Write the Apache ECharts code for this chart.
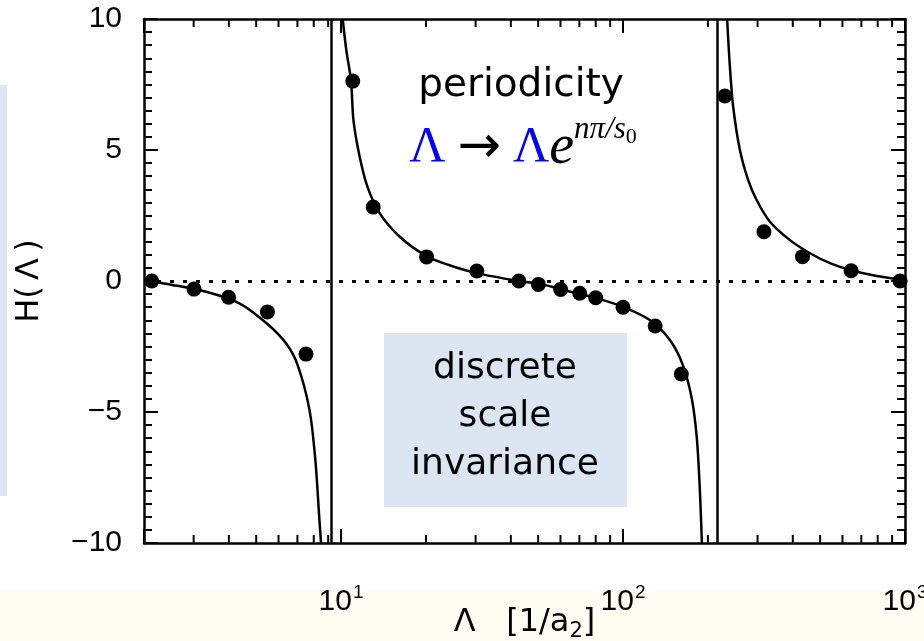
<!DOCTYPE html>
<html>
<head>
<meta charset="utf-8">
<script src="https://cdn.jsdelivr.net/npm/echarts@6/dist/echarts.min.js"></script>
<style>
  html, body { margin: 0; padding: 0; background: #fff; }
  #chart { width: 924px; height: 641px; }
</style>
</head>
<body>
<div id="chart"></div>
<script>
// measured points (filled dots)
const dotLambda = [2.13, 3.01, 3.99, 5.48, 7.51, 11.0, 13.0, 20.1, 30.3, 42.7, 50.1, 60.1, 70.2, 80.0, 100, 130, 161, 229.7, 316, 433, 644, 961]
const dotH = [0.0, -0.31, -0.62, -1.18, -2.79, 7.63, 2.82, 0.92, 0.38, 0.0, -0.13, -0.32, -0.47, -0.64, -1.0, -1.72, -3.55, 7.06, 1.88, 0.93, 0.39, 0.0]

// fitted curve, three branches between the poles
const branch1Lambda = [2.0, 2.52, 3.32, 4.36, 5.48, 6.38, 7.01, 7.72, 8.10, 8.37, 8.49]
const branch1H = [0.02, -0.15, -0.41, -0.85, -1.64, -2.38, -3.2, -4.9, -6.8, -9.05, -10]
const branch2Lambda = [10.13, 10.44, 10.85, 11.06, 11.61, 12.4, 13.68, 16.11, 20.09, 24.24, 30.24, 42.63, 50.61, 59.6, 70.2, 82.7, 100.6, 124.4, 146.6, 162.9, 175.4, 182.7, 187.3, 190.4]
const branch2H = [10, 8.8, 7.63, 6.15, 4.8, 3.6, 2.6, 1.7, 0.95, 0.6, 0.3, 0.0, -0.11, -0.3, -0.5, -0.69, -1.0, -1.49, -2.25, -3.2, -4.5, -6, -8, -10]
const branch3Lambda = [234.1, 239.3, 245.8, 259.7, 277.9, 297.7, 331.9, 390.8, 460.3, 542.0, 638.3, 794.1, 1000]
const branch3H = [9.96, 8.18, 6.65, 5.0, 3.85, 3.09, 2.26, 1.56, 1.06, 0.68, 0.42, 0.19, 0.03]

// poles (vertical lines)
const poleLambda = [9.24, 215]

// log axis minor tick values
const minorTicks = [3, 4, 5, 6, 7, 8, 9, 20, 30, 40, 50, 60, 70, 80, 90, 200, 300, 400, 500, 600, 700, 800, 900]

const zip = (xs, ys) => xs.map((x, i) => [x, ys[i]])

const chart = echarts.init(document.getElementById('chart'))

const axisLine = { show: true, onZero: false, lineStyle: { color: '#000', width: 2.5 } }
const tickFont = { fontFamily: 'Liberation Sans', fontSize: 30, color: '#000' }

const curveStyle = {
  type: 'line',
  showSymbol: false,
  symbol: 'none',
  smooth: 0.3,
  lineStyle: { color: '#000', width: 2.5 },
  z: 4,
}

const option = {
  backgroundColor: '#fff',
  animation: false,
  grid: { left: 144, right: 19, top: 19, bottom: 98, containLabel: false, outerBoundsMode: 'none' },
  xAxis: [
    {
      type: 'log',
      logBase: 10,
      min: 2,
      max: 1000,
      position: 'bottom',
      axisLine,
      axisTick: { show: true, inside: true, length: 14, lineStyle: { color: '#000', width: 2 } },
      splitLine: { show: false },
      axisLabel: {
        margin: 40,
        formatter: (v) => {
          const e = Math.round(Math.log10(v))
          if (Math.abs(Math.pow(10, e) - v) > 1e-6) return ''
          return '{b|10}{s|' + e + '}'
        },
        rich: {
          b: { ...tickFont },
          s: { ...tickFont, fontSize: 19, padding: [0, 0, 18, 1] },
        },
      },
      name: '{t|Λ   [1/a}{sub|2}{t|]}',
      nameLocation: 'middle',
      nameGap: 61,
      nameMoveOverlap: false,
      nameTextStyle: {
        rich: {
          t: { fontFamily: 'DejaVu Sans', fontSize: 32, color: '#000' },
          sub: { fontFamily: 'DejaVu Sans', fontSize: 21, color: '#000', padding: [17, 0, 0, 0] },
        },
      },
    },
    {
      type: 'log',
      logBase: 10,
      min: 2,
      max: 1000,
      position: 'top',
      axisLine,
      axisTick: { show: true, inside: true, length: 14, lineStyle: { color: '#000', width: 2 } },
      axisLabel: { show: false },
      splitLine: { show: false },
    },
  ],
  yAxis: [
    {
      type: 'value',
      min: -10,
      max: 10,
      interval: 5,
      position: 'left',
      axisLine,
      axisTick: { show: true, inside: true, length: 14, lineStyle: { color: '#000', width: 2 } },
      minorTick: { show: true, splitNumber: 10, length: 8, lineStyle: { color: '#000', width: 2 } },
      splitLine: { show: false },
      axisLabel: {
        margin: 22,
        ...tickFont,
        formatter: (v) => (v < 0 ? '\u2212' + Math.abs(v) : String(v)),
      },
      name: 'H(\u2009Λ\u2009)',
      nameLocation: 'middle',
      nameGap: 98,
      nameRotate: 90,
      nameMoveOverlap: false,
      nameTextStyle: { fontFamily: 'DejaVu Sans', fontSize: 32, color: '#000' },
    },
    {
      type: 'value',
      min: -10,
      max: 10,
      interval: 5,
      position: 'right',
      axisLine,
      axisTick: { show: true, inside: true, length: 14, lineStyle: { color: '#000', width: 2 } },
      minorTick: { show: true, splitNumber: 10, length: 8, lineStyle: { color: '#000', width: 2 } },
      splitLine: { show: false },
      axisLabel: { show: false },
    },
  ],
  graphic: [
    { type: 'rect', shape: { x: 0, y: 85, width: 7, height: 411 }, style: { fill: '#dce6f2' }, z: -10 },
    { type: 'rect', shape: { x: 0, y: 590, width: 924, height: 51 }, style: { fill: '#fffdf2' }, z: -10 },
    { type: 'rect', shape: { x: 384, y: 333, width: 243, height: 174 }, style: { fill: '#dce6f2' }, z: 1 },
    {
      type: 'text', x: 505, y: 417, z: 10,
      style: {
        text: 'discrete\nscale\ninvariance',
        fontFamily: 'DejaVu Sans', fontSize: 36, lineHeight: 48,
        fill: '#000', align: 'center', verticalAlign: 'middle',
      },
    },
    {
      type: 'text', x: 521, y: 86, z: 10,
      style: {
        text: 'periodicity',
        fontFamily: 'DejaVu Sans', fontSize: 39,
        fill: '#000', align: 'center', verticalAlign: 'middle',
      },
    },
    {
      type: 'text', x: 523, y: 148, z: 10,
      style: {
        text: '{L|Λ}{a|→}{L|Λ}{e|e}{sup|nπ/s}{sub|0}',
        align: 'center', verticalAlign: 'middle',
        rich: {
          L: { fontFamily: 'Liberation Serif', fontSize: 50, fill: '#0000ff' },
          a: { fontFamily: 'DejaVu Sans', fontSize: 52, fill: '#000', padding: [0, 12, 0, 12] },
          e: { fontFamily: 'Liberation Serif', fontSize: 56, fontStyle: 'italic', fill: '#000' },
          sup: { fontFamily: 'Liberation Serif', fontSize: 31, fontStyle: 'italic', fill: '#000', padding: [0, 0, 36, 0] },
          sub: { fontFamily: 'Liberation Serif', fontSize: 22, fill: '#000', padding: [0, 0, 22, 0] },
        },
      },
    },
  ],
  series: [
    {
      type: 'scatter',
      data: zip(dotLambda, dotH),
      symbol: 'circle',
      symbolSize: 15,
      itemStyle: { color: '#000', opacity: 1 },
      z: 5,
      markLine: {
        silent: true,
        symbol: 'none',
        label: { show: false },
        data: [
          { yAxis: 0, lineStyle: { type: [4, 9], width: 3, color: '#000' } },
          ...poleLambda.map((v) => ({ xAxis: v, lineStyle: { type: 'solid', width: 2.5, color: '#000' } })),
        ],
      },
    },
    { ...curveStyle, data: zip(branch1Lambda, branch1H) },
    { ...curveStyle, data: zip(branch2Lambda, branch2H) },
    { ...curveStyle, data: zip(branch3Lambda, branch3H) },
    {
      type: 'custom',
      silent: true,
      z: 6,
      data: minorTicks.map((v) => [v, 0]),
      renderItem(params, api) {
        const x = api.coord([api.value(0), 0])[0]
        const r = params.coordSys
        const st = { stroke: '#000', lineWidth: 2 }
        return {
          type: 'group',
          children: [
            { type: 'line', shape: { x1: x, y1: r.y + r.height, x2: x, y2: r.y + r.height - 8 }, style: st },
            { type: 'line', shape: { x1: x, y1: r.y, x2: x, y2: r.y + 8 }, style: st },
          ],
        }
      },
    },
  ],
}

chart.setOption(option)
</script>
</body>
</html>
